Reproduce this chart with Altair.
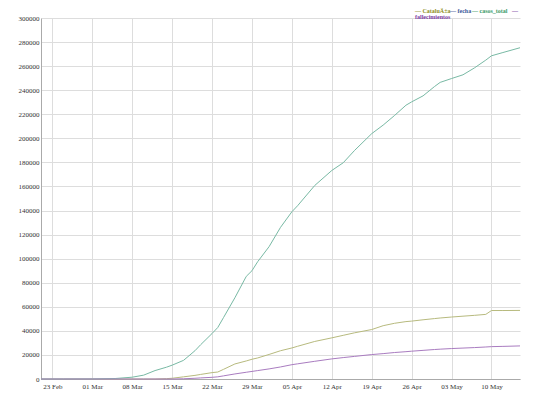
import altair as alt
import pandas as pd

# ---- data ----
dates = [
    "2020-02-21", "2020-02-25", "2020-03-01", "2020-03-05", "2020-03-08", "2020-03-10",
    "2020-03-12", "2020-03-14", "2020-03-15", "2020-03-17", "2020-03-19", "2020-03-20",
    "2020-03-22", "2020-03-23", "2020-03-24", "2020-03-26", "2020-03-28", "2020-03-29",
    "2020-03-30", "2020-04-01", "2020-04-03", "2020-04-05", "2020-04-06", "2020-04-09",
    "2020-04-12", "2020-04-14", "2020-04-16", "2020-04-19", "2020-04-21", "2020-04-23",
    "2020-04-25", "2020-04-26", "2020-04-28", "2020-04-30", "2020-05-01", "2020-05-03",
    "2020-05-05", "2020-05-07", "2020-05-09", "2020-05-10", "2020-05-12", "2020-05-15",
]
casos_total = [
    0, 0, 50, 400, 1500, 3200,
    7000, 9800, 11500, 15500, 23500, 28500,
    37800, 42800, 51000, 67500, 85300, 90000,
    97500, 110000, 126000, 139000, 144000, 160800,
    173300, 179700, 190000, 203900, 211000, 219000,
    227500, 230300, 235300, 243000, 246500, 249700,
    252800, 258500, 265000, 268600, 271300, 275300,
]
cataluna = [
    0, 0, 0, 0, 0, 0,
    0, 300, 600, 1800, 3000, 3800,
    5300, 5800, 8000, 12500, 15000, 16400,
    17500, 20400, 23500, 25800, 27200, 31200,
    34200, 36300, 38400, 41100, 44300, 46300,
    47700, 48100, 49200, 50200, 50700, 51500,
    52200, 52900, 53700, 56900, 56900, 57000,
]
fallecimientos = [
    0, 0, 0, 0, 0, 0,
    0, 0, 0, 200, 600, 900,
    1400, 1800, 2600, 4200, 5600, 6300,
    7000, 8400, 10000, 11900, 12600, 14700,
    16700, 17800, 18800, 20300, 21100, 22000,
    22700, 23100, 23800, 24500, 24800, 25300,
    25700, 26100, 26600, 26900, 27100, 27500,
]
series_names = ["CataluÃ±a", "casos_total", "fallecimientos"]
legend_labels = ["— CataluÃ±a", "— fecha", "— casos_total", "—", "fallecimientos"]
tick_dates = ["2020-02-23", "2020-03-01", "2020-03-08", "2020-03-15", "2020-03-22",
              "2020-03-29", "2020-04-05", "2020-04-12", "2020-04-19", "2020-04-26",
              "2020-05-03", "2020-05-10"]
y_ticks = list(range(0, 300001, 20000))

rows = []
for d, a, b, c in zip(dates, cataluna, casos_total, fallecimientos):
    rows.append({"fecha": d, "serie": "CataluÃ±a", "valor": a})
    rows.append({"fecha": d, "serie": "casos_total", "valor": b})
    rows.append({"fecha": d, "serie": "fallecimientos", "valor": c})
df = pd.DataFrame(rows)


def ms(s):
    return int(pd.Timestamp(s, tz="UTC").timestamp() * 1000)


FONT = "Liberation Serif, Times New Roman, serif"
line_colors = ["#b7ba7e", "#78b9a4", "#a97cc0"]

lines = alt.Chart(df).mark_line(strokeWidth=1).encode(
    x=alt.X(
        "fecha:T",
        scale=alt.Scale(type="utc", domain=[ms(dates[0]), ms(dates[-1])], nice=False),
        axis=alt.Axis(
            values=[ms(t) for t in tick_dates], format="%d %b", title=None,
            grid=True, gridColor="#dddddd", domainColor="#aaaaaa", ticks=False,
            labelFont=FONT, labelFontSize=7, labelColor="#333333",
            labelPadding=3, labelOverlap=False, labelFlush=False,
        ),
    ),
    y=alt.Y(
        "valor:Q",
        scale=alt.Scale(domain=[0, 300000], nice=False),
        axis=alt.Axis(
            values=y_ticks, format="d", title=None,
            grid=True, gridColor="#dddddd", domainColor="#aaaaaa", ticks=False,
            labelFont=FONT, labelFontSize=7, labelColor="#333333",
            labelPadding=2, labelOverlap=False, labelFlush=False,
        ),
    ),
    color=alt.Color("serie:N", scale=alt.Scale(domain=series_names, range=line_colors), legend=None),
    order=alt.Order("fecha:T"),
)

one = alt.Data(values=[{"k": 1}])
legend_colors = ["#8e8e22", "#3b5a9a", "#3a9a68", "#7a3aa0", "#7a3aa0"]
legend_x = [374, 409, 431, 471, 374]
legend_y = [-7, -7, -7, -7, -1.5]
legend_layers = []
for lab, col, lx, ly in zip(legend_labels, legend_colors, legend_x, legend_y):
    legend_layers.append(
        alt.Chart(one).mark_text(
            text=lab, color=col, font=FONT, fontSize=6, fontWeight="bold",
            align="left", baseline="middle",
        ).encode(x=alt.value(lx), y=alt.value(ly))
    )

chart = alt.layer(lines, *legend_layers).properties(
    width=479,
    height=361,
    autosize=alt.AutoSizeParams(type="none"),
    padding={"left": 33, "top": 10, "right": 10, "bottom": 20},
).configure_view(stroke=None)

chart.save("out.html", embed_options={"renderer": "svg", "actions": False})
